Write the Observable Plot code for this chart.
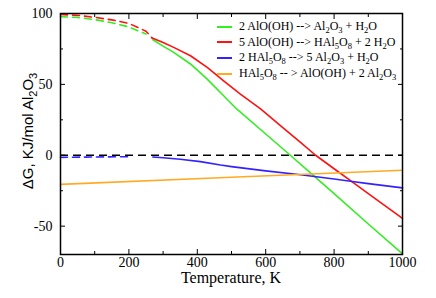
<!DOCTYPE html>
<html>
<head>
<meta charset="utf-8">
<script src="https://cdn.jsdelivr.net/npm/d3@7"></script>
<script src="https://cdn.jsdelivr.net/npm/@observablehq/plot@0.6"></script>
</head>
<body style="margin:0;padding:0;background:white">
<div id="wrap" style="position:relative;width:436px;height:298px"><div id="legend" style="position:absolute;left:217px;top:19px;font-family:'Liberation Serif';font-size:12px;color:black;line-height:15.6px"></div></div>
<script>
// ---- data ----
const seriesNames = [
  "2 AlO(OH) --> Al<sub>2</sub>O<sub>3</sub> + H<sub>2</sub>O",
  "5 AlO(OH) --> HAl<sub>5</sub>O<sub>8</sub> + 2 H<sub>2</sub>O",
  "2 HAl<sub>5</sub>O<sub>8</sub> --> 5 Al<sub>2</sub>O<sub>3</sub> + H<sub>2</sub>O",
  "HAl<sub>5</sub>O<sub>8</sub> -- > AlO(OH) + 2 Al<sub>2</sub>O<sub>3</sub>"
];
const seriesColors = ["#33ee22", "#ff1111", "#3322ff", "#ffaa22"];

const greenT = [0, 50, 100, 150, 200, 250, 270, 300, 331, 380, 429, 477, 516, 600, 672, 740, 800, 900, 1000];
const greenG = [97.8, 97.2, 95.7, 93.5, 90.5, 85.5, 81.5, 77, 72.6, 64.4, 53.7, 42, 32.5, 15, 0, -14.3, -27, -48.5, -69.5];

const redT = [0, 50, 100, 150, 200, 250, 268, 300, 331, 380, 429, 477, 526, 585, 650, 700, 746, 800, 853, 900, 1000];
const redG = [99.3, 98.7, 97.3, 95.5, 93, 87.5, 82.7, 79.5, 76.1, 70.2, 62, 52.5, 43.1, 32.7, 19.5, 9.5, 0, -9.5, -18.7, -27, -44.5];

const blueT = [0, 100, 200, 270, 300, 350, 409, 468, 500, 600, 702, 800, 853, 900, 1000];
const blueG = [-1.5, -1.2, -1, -1.2, -1.8, -2.8, -4.5, -6.9, -8, -11, -13.8, -16.8, -18.5, -20, -23];

const orangeT = [0, 500, 1000];
const orangeG = [-20.5, -15.5, -10.6];

const dashEnd = 268; // segment shown dashed below this temperature

const xMajor = [0, 200, 400, 600, 800, 1000];
const xMinor = [100, 300, 500, 700, 900];
const yMajor = [-50, 0, 50, 100];
const yMinor = [-25, 25, 75];
const xLabel = "Temperature, K";

// ---- build ----
const mk = (T, G) => T.map((t, i) => ({T: t, G: G[i]}));
const series = [mk(greenT, greenG), mk(redT, redG), mk(blueT, blueG), mk(orangeT, orangeG)];
const dashedFlags = [true, true, true, false];

const lineMarks = [];
series.forEach((s, i) => {
  const c = seriesColors[i];
  if (dashedFlags[i]) {
    lineMarks.push(Plot.line(s.filter(d => d.T <= dashEnd), {x: "T", y: "G", stroke: c, strokeWidth: 1.6, strokeDasharray: "7,5"}));
    lineMarks.push(Plot.line(s.filter(d => d.T >= dashEnd), {x: "T", y: "G", stroke: c, strokeWidth: 1.6}));
  } else {
    lineMarks.push(Plot.line(s, {x: "T", y: "G", stroke: c, strokeWidth: 1.6}));
  }
});

const tickFont = {fontSize: 14, tickFormat: d => String(d)};
const chart = Plot.plot({
  width: 436, height: 298,
  marginLeft: 60, marginRight: 34, marginTop: 13, marginBottom: 44,
  x: {domain: [0, 1000]},
  y: {domain: [-70, 100]},
  style: {fontSize: "14px", color: "black", background: "white", overflow: "visible"},
  marks: [
    Plot.ruleY([0], {stroke: "black", strokeWidth: 1.5, strokeDasharray: "8,5"}),
    ...lineMarks,
    Plot.frame({stroke: "black", strokeWidth: 1.5}),
    Plot.axisX(xMajor, {anchor: "bottom", tickSize: 0, tickPadding: 3, label: null, ...tickFont}),
    Plot.axisX(xMajor, {anchor: "bottom", tickSize: -5, text: null, label: null}),
    Plot.axisX(xMinor, {anchor: "bottom", tickSize: -3, text: null, label: null}),
    Plot.axisX(xMajor, {anchor: "top", tickSize: -5, text: null, label: null}),
    Plot.axisX(xMinor, {anchor: "top", tickSize: -3, text: null, label: null}),
    Plot.axisY(yMajor, {anchor: "left", tickSize: 0, tickPadding: 8, label: null, ...tickFont}),
    Plot.axisY(yMajor, {anchor: "left", tickSize: -5, text: null, label: null}),
    Plot.axisY(yMinor, {anchor: "left", tickSize: -3, text: null, label: null}),
    Plot.axisY(yMajor, {anchor: "right", tickSize: -5, text: null, label: null}),
    Plot.axisY(yMinor, {anchor: "right", tickSize: -3, text: null, label: null})
  ]
});
document.getElementById("wrap").prepend(chart);

const svg = d3.select(chart);
svg.attr("font-family", "Liberation Serif");
svg.selectAll("text").style("font-family", "'Liberation Serif'");

// axis titles
svg.append("text")
  .attr("x", 231).attr("y", 283)
  .attr("text-anchor", "middle")
  .attr("font-size", 16)
  .attr("fill", "black")
  .style("font-family", "'Liberation Serif'")
  .text(xLabel);

const yl = svg.append("text")
  .attr("transform", "translate(33,131) rotate(-90)")
  .attr("text-anchor", "middle")
  .attr("font-size", 15)
  .attr("fill", "black")
  .style("font-family", "'Liberation Sans'");
yl.append("tspan").text("\u0394G, KJ/mol Al");
yl.append("tspan").attr("font-size", 11).attr("dy", 4).text("2");
yl.append("tspan").attr("dy", -4).text("O");
yl.append("tspan").attr("font-size", 11).attr("dy", 4).text("3");

// legend
const leg = d3.select("#legend");
seriesNames.forEach((n, i) => {
  const r = leg.append("div").style("display", "flex").style("align-items", "center").style("white-space", "nowrap");
  r.append("span").style("display", "inline-block").style("width", "15px").style("height", "0px")
    .style("border-top", "2px solid " + seriesColors[i]).style("margin-right", "7px");
  const t = r.append("span").style("font-family", "'Liberation Serif'").html(n);
  t.selectAll("sub").style("font-size", "8.5px").style("vertical-align", "-3px").style("line-height", "0");
});
</script>
</body>
</html>
